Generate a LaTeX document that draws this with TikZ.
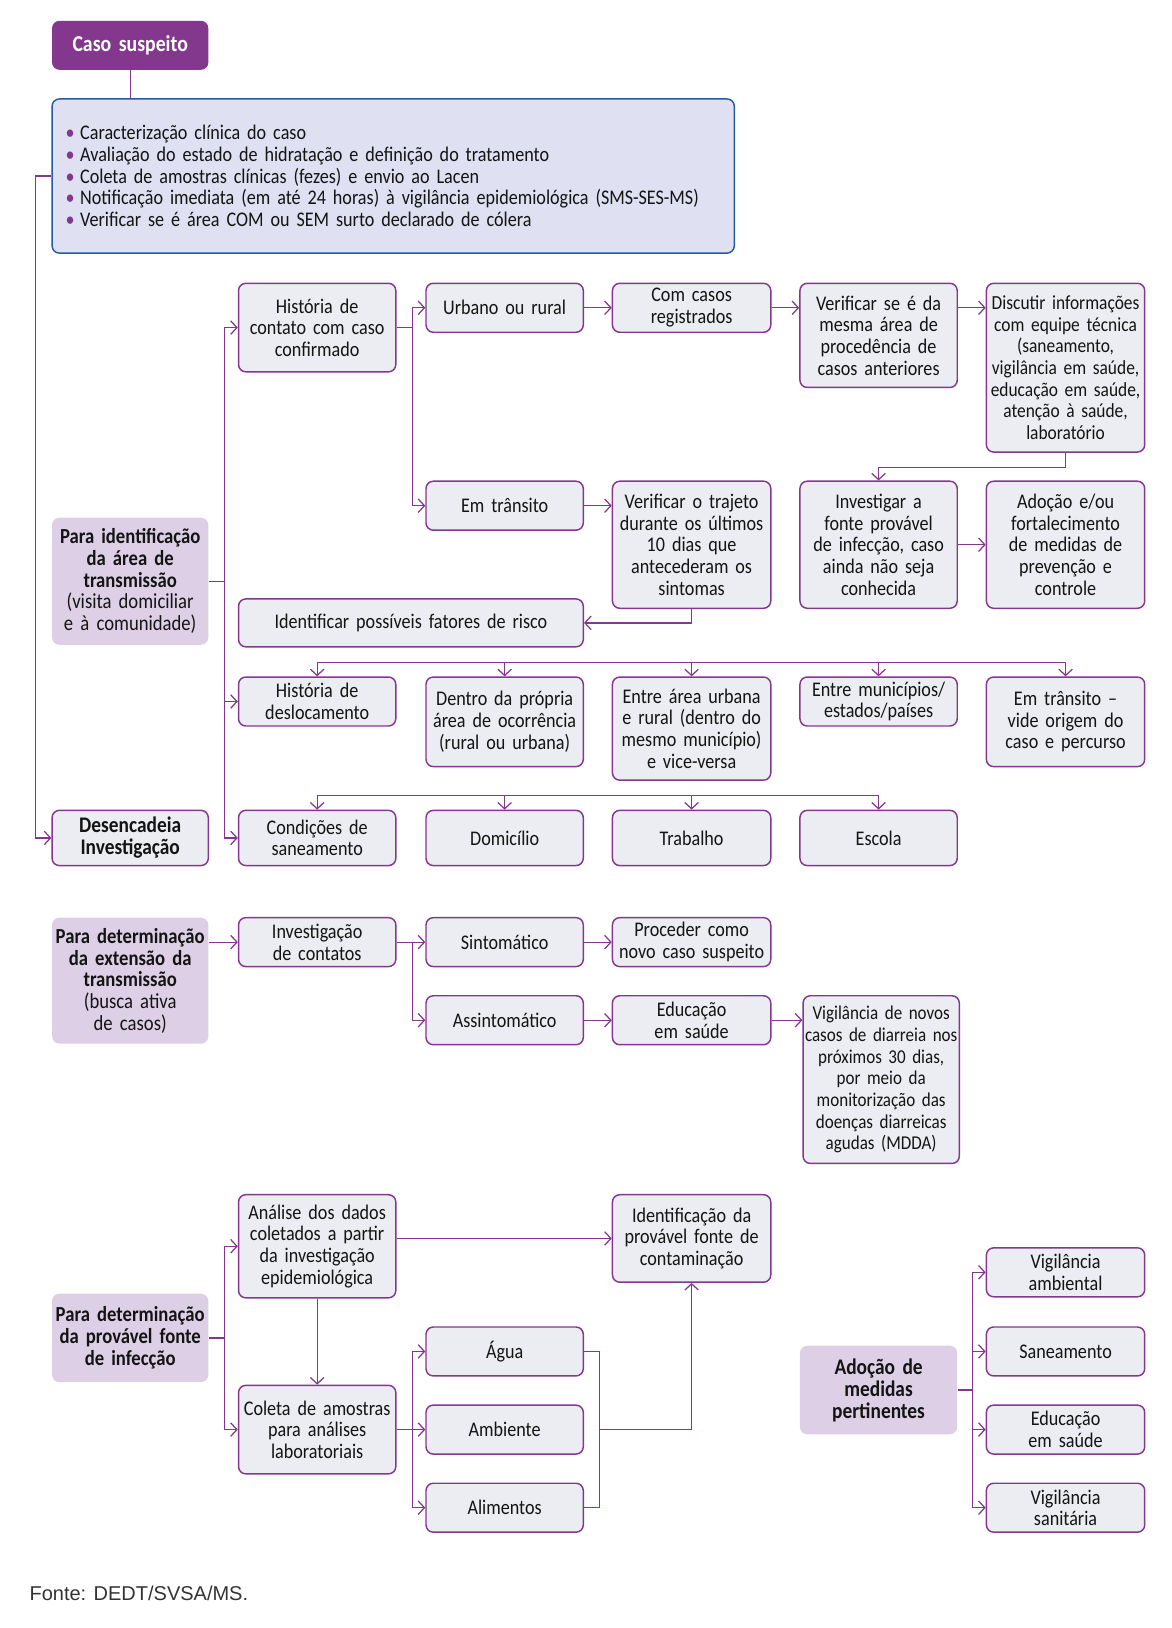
\documentclass[tikz,border=0pt]{standalone}
\usepackage{fontspec}
\setmainfont{Carlito}[FakeStretch=0.87,WordSpace=0.85]
\newfontfamily\fontefont{Liberation Sans}
\usetikzlibrary{arrows.meta,calc}
\definecolor{purp}{RGB}{132,56,141}
\definecolor{boxfill}{RGB}{236,237,242}
\definecolor{lilac}{RGB}{221,208,230}
\definecolor{bigfill}{RGB}{223,224,241}
\definecolor{bigborder}{RGB}{40,90,160}
\definecolor{txt}{RGB}{20,20,20}
\newcommand\bx[7]{%
 \pgfmathsetlengthmacro\bxw{(#4-#2)*0.5pt}%
 \pgfmathsetlengthmacro\bxh{(#5-#3)*0.5pt}%
 \pgfmathsetlengthmacro\bxt{(#4-#2)*0.5pt-1.5pt}%
 \node[#6, minimum width=\bxw, minimum height=\bxh, text width=\bxt, align=center, inner sep=0pt] (#1) at ({(#2+#4)/2},{(#3+#5)/2}) {#7};}
\begin{document}
\begin{tikzpicture}[x=0.5pt,y=-0.5pt,
  gbox/.style={draw=purp, fill=boxfill, rounded corners=3.5pt, line width=0.7pt},
  lbox/.style={fill=lilac, rounded corners=3.5pt, font=\fontsize{10.3}{10.4}\selectfont},
  cbox/.style={fill=purp, rounded corners=3.5pt, text=white, font=\fontsize{10.9}{11.5}\selectfont\bfseries},
  bigbox/.style={draw=bigborder, fill=bigfill, rounded corners=3.5pt, line width=0.7pt},
  boldbox/.style={font=\fontsize{10.7}{10.6}\selectfont\bfseries},
  conn/.style={draw=purp, line width=0.6pt},
  arr/.style={conn, -{Straight Barb[length=3pt,width=6.5pt]}},
  every node/.style={font=\fontsize{10}{10.4}\selectfont, text=txt}]
\useasboundingbox (0,0) rectangle (1125,1563);

% ---------- top ----------
\bx{caso}{50}{20}{200}{67}{cbox}{Caso suspeito}
\node[bigbox, minimum width=327.5pt, minimum height=74pt, text width=314.5pt, align=left, inner sep=0pt] (big) at (377.5,169)
{\makebox[7pt][l]{\textcolor{purp}{•}}Caracterização clínica do caso\\
 \makebox[7pt][l]{\textcolor{purp}{•}}Avaliação do estado de hidratação e definição do tratamento\\
 \makebox[7pt][l]{\textcolor{purp}{•}}Coleta de amostras clínicas (fezes) e envio ao Lacen\\
 \makebox[7pt][l]{\textcolor{purp}{•}}Notificação imediata (em até 24 horas) à vigilância epidemiológica (SMS-SES-MS)\\
 \makebox[7pt][l]{\textcolor{purp}{•}}Verificar se é área COM ou SEM surto declarado de cólera};

% ---------- section 1 ----------
\bx{hist}{229}{272}{380}{357}{gbox}{História de\\contato com caso\\confirmado}
\bx{urb}{409}{272}{560}{319}{gbox}{Urbano ou rural}
\bx{com}{588}{272}{740}{319}{gbox}{Com casos\\registrados}
\bx{verif}{768}{272}{919}{372}{gbox}{Verificar se é da\\mesma área de\\procedência de\\casos anteriores}
\bx{disc}{947}{272}{1099}{434}{gbox,font=\fontsize{9.6}{10.4}\selectfont}{Discutir informações\\com equipe técnica\\(saneamento,\\vigilância em saúde,\\educação em saúde,\\atenção à saúde,\\laboratório}
\bx{trans}{409}{462}{560}{509}{gbox}{Em trânsito}
\bx{traj}{588}{462}{740}{584}{gbox}{Verificar o trajeto\\durante os últimos\\10 dias que\\antecederam os\\sintomas}
\bx{inv}{768}{462}{919}{584}{gbox}{Investigar a\\fonte provável\\de infecção, caso\\ainda não seja\\conhecida}
\bx{adoc}{947}{462}{1099}{584}{gbox}{Adoção e/ou\\fortalecimento\\de medidas de\\prevenção e\\controle}
\bx{ident}{229}{575}{560}{621}{gbox}{Identificar possíveis fatores de risco}
\bx{paraid}{50}{497}{200}{619}{lbox}{\textbf{Para identificação}\\\textbf{da área de}\\\textbf{transmissão}\\(visita domiciliar\\e à comunidade)}
\bx{desl}{229}{650}{380}{697}{gbox}{História de\\deslocamento}
\bx{dentro}{409}{650}{560}{736}{gbox}{Dentro da própria\\área de ocorrência\\(rural ou urbana)}
\bx{entre}{588}{650}{740}{749}{gbox}{Entre área urbana\\e rural (dentro do\\mesmo município)\\e vice-versa}
\bx{munic}{768}{650}{919}{697}{gbox}{Entre municípios/\\estados/países}
\bx{emtr}{947}{650}{1099}{736}{gbox}{Em trânsito –\\vide origem do\\caso e percurso}
\bx{desenc}{50}{778}{200}{831}{gbox,boldbox}{Desencadeia\\Investigação}
\bx{cond}{229}{778}{380}{831}{gbox}{Condições de\\saneamento}
\bx{dom}{409}{778}{560}{831}{gbox}{Domicílio}
\bx{trab}{588}{778}{740}{831}{gbox}{Trabalho}
\bx{esc}{768}{778}{919}{831}{gbox}{Escola}

% ---------- section 2 ----------
\bx{paraext}{50}{881}{200}{1002}{lbox}{\textbf{Para determinação}\\\textbf{da extensão da}\\\textbf{transmissão}\\(busca ativa\\de casos)}
\bx{invc}{229}{881}{380}{928}{gbox}{Investigação\\de contatos}
\bx{sint}{409}{881}{560}{928}{gbox}{Sintomático}
\bx{proc}{588}{881}{740}{928}{gbox}{Proceder como\\novo caso suspeito}
\bx{assint}{409}{956}{560}{1003}{gbox}{Assintomático}
\bx{educ}{588}{956}{740}{1003}{gbox}{Educação\\em saúde}
\bx{vig}{771}{956}{921}{1117}{gbox,font=\fontsize{9.4}{10.4}\selectfont}{Vigilância de novos\\casos de diarreia nos\\próximos 30 dias,\\por meio da\\monitorização das\\doenças diarreicas\\agudas (MDDA)}

% ---------- section 3 ----------
\bx{parafon}{50}{1242}{200}{1327}{lbox}{\textbf{Para determinação}\\\textbf{da provável fonte}\\\textbf{de infecção}}
\bx{anal}{229}{1147}{380}{1246}{gbox}{Análise dos dados\\coletados a partir\\da investigação\\epidemiológica}
\bx{colet}{229}{1330}{380}{1415}{gbox}{Coleta de amostras\\para análises\\laboratoriais}
\bx{idf}{588}{1147}{740}{1231}{gbox}{Identificação da\\provável fonte de\\contaminação}
\bx{agua}{409}{1274}{560}{1321}{gbox}{Água}
\bx{amb}{409}{1349}{560}{1396}{gbox}{Ambiente}
\bx{alim}{409}{1424}{560}{1471}{gbox}{Alimentos}
\bx{adm}{768}{1292}{919}{1377}{lbox,boldbox}{Adoção de\\medidas\\pertinentes}
\bx{vamb}{947}{1198}{1099}{1245}{gbox}{Vigilância\\ambiental}
\bx{san}{947}{1274}{1099}{1321}{gbox}{Saneamento}
\bx{edu2}{947}{1349}{1099}{1396}{gbox}{Educação\\em saúde}
\bx{vsan}{947}{1424}{1099}{1471}{gbox}{Vigilância\\sanitária}

\node[anchor=west, inner sep=0pt, font=\fontefont\fontsize{9.6}{11}\selectfont, text=black!80] (fonte) at (28,1530) {Fonte: DEDT/SVSA/MS.};

% ---------- connectors ----------
\draw[conn] (caso.south) -- (caso.south |- big.north);
\draw[arr] (big.west) -- ++(-15,0) |- (desenc.west);

\draw[conn] (paraid.east) -- ++(15,0) coordinate (t1);
\draw[arr] (t1) |- (hist.west);
\draw[arr] (t1) |- (desl.west);
\draw[arr] (t1) |- (cond.west);

\draw[conn] (hist.east) -- ++(15,0) coordinate (t2);
\draw[arr] (t2) |- (urb.west);
\draw[arr] (t2) |- (trans.west);
\draw[arr] (urb.east) -- (com.west);
\draw[arr] (com.east) -- (com.east -| verif.west);
\draw[arr] (com.east -| verif.east) -- (com.east -| disc.west);
\draw[arr] (disc.south) -- ++(0,14) -| (inv.north);
\draw[arr] (trans.east) -- (trans.east -| traj.west);
\draw[arr] (inv.east) -- (adoc.west);
\draw[arr] (traj.south) |- (ident.east);

\coordinate (bus1) at (0,636);
\draw[conn] (desl.north |- bus1) -- (emtr.north |- bus1);
\foreach \n in {desl,dentro,entre,munic,emtr} \draw[arr] (\n.north |- bus1) -- (\n.north);
\coordinate (bus2) at (0,764);
\draw[conn] (cond.north |- bus2) -- (esc.north |- bus2);
\foreach \n in {cond,dom,trab,esc} \draw[arr] (\n.north |- bus2) -- (\n.north);

\draw[arr] (paraext.east |- invc.west) -- (invc.west);
\draw[conn] (invc.east) -- ++(15,0) coordinate (t3);
\draw[arr] (t3) |- (sint.west);
\draw[arr] (t3) |- (assint.west);
\draw[arr] (sint.east) -- (proc.west);
\draw[arr] (assint.east) -- (educ.west);
\draw[arr] (educ.east) -- (educ.east -| vig.west);

\draw[conn] (parafon.east) -- ++(15,0) coordinate (t4);
\draw[arr] (t4) |- (anal.west);
\draw[arr] (t4) |- (colet.west);
\draw[arr] (anal.east |- idf.west) -- (idf.west);
\draw[arr] (anal.south) -- (colet.north);
\draw[conn] (colet.east) -- ++(15,0) coordinate (t5);
\draw[arr] (t5) |- (agua.west);
\draw[arr] (t5) |- (amb.west);
\draw[arr] (t5) |- (alim.west);
\draw[conn] (agua.east) -- ++(15,0) coordinate (t6) -- (t6 |- alim.east) -- (alim.east);
\draw[arr] (t6 |- amb.east) -| (idf.south);

\draw[conn] (adm.east) -- ++(14,0) coordinate (t7);
\draw[arr] (t7) |- (vamb.west);
\draw[arr] (t7) |- (san.west);
\draw[arr] (t7) |- (edu2.west);
\draw[arr] (t7) |- (vsan.west);
\end{tikzpicture}
\end{document}
